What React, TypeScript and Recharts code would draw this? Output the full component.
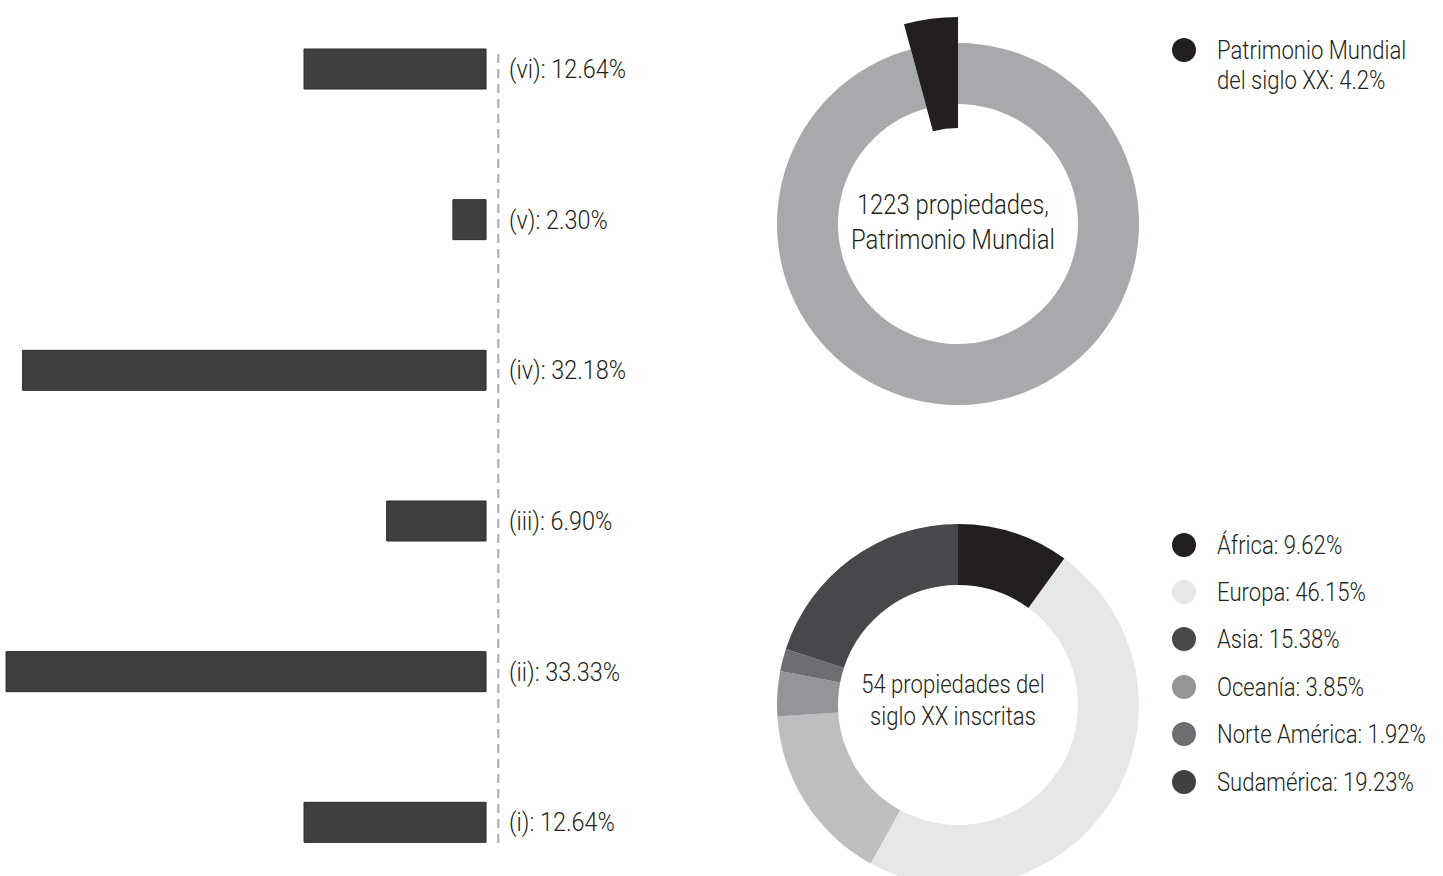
import React from 'react';
import { BarChart, Bar, XAxis, YAxis, ReferenceLine, LabelList, PieChart, Pie, Cell } from 'recharts';

// criterios de inscripción (barras, de arriba a abajo)
const criteria = ['(vi)', '(v)', '(iv)', '(iii)', '(ii)', '(i)'];
const criteriaShare = [12.64, 2.3, 32.18, 6.9, 33.33, 12.64];

// anillo superior
const worldNames = ['Patrimonio Mundial\ndel siglo XX', 'Resto'];
const worldShare = [4.2, 95.8];
const worldColors = ['#231f20', '#a7a9ac'];

// anillo inferior
const regions = ['África', 'Europa', 'Asia', 'Oceanía', 'Norte América', 'Sudamérica'];
const regionShare = [9.62, 46.15, 15.38, 3.85, 1.92, 19.23];
const regionColors = ['#231f20', '#e6e7e8', '#bcbec0', '#939598', '#6d6e71', '#47484b'];
const legendColors = ['#231f20', '#e6e7e8', '#47484b', '#939598', '#6d6e71', '#414042'];

// no condensed font installed: squeeze a regular sans horizontally
const FONT = "Roboto, 'Liberation Sans', sans-serif";
const WEIGHT = 300;
const SX = 0.85;
const SX_BARS = 0.9;
const INK = '#231f20';

const barData = criteria.map((c, i) => ({
  name: c,
  value: criteriaShare[i],
  label: `${c}: ${criteriaShare[i].toFixed(2)}%`,
}));
const worldData = worldNames.map((n, i) => ({ name: n, value: worldShare[i] }));
const regionData = regions.map((n, i) => ({ name: n, value: regionShare[i] }));

const BarLabel = (props: any) => {
  const vb = props.viewBox || props;
  const right = Math.max(vb.x, vb.x + vb.width);
  return (
    <text
      transform={`translate(${right + 23}, ${vb.y + vb.height / 2 + 9}) scale(${SX_BARS}, 1)`}
      fontSize={26}
      fontWeight={WEIGHT}
      fill={INK}
      fontFamily={FONT}
    >
      {props.value}
    </text>
  );
};

const squeeze = (origin: string): React.CSSProperties => ({
  display: 'inline-block',
  transform: `scaleX(${SX})`,
  transformOrigin: origin,
  whiteSpace: 'pre-line',
});

export default function App() {
  return (
    <div style={{ position: 'absolute', left: 0, top: 0, width: 1443, height: 876, overflow: 'hidden', background: '#fff', fontFamily: FONT, fontWeight: WEIGHT, color: INK }}>
      {/* barras */}
      <div style={{ position: 'absolute', left: 0, top: 0 }}>
        <BarChart width={660} height={876} data={barData} layout="vertical" margin={{ top: 49, right: 161, bottom: 33, left: 0 }}>
          <XAxis type="number" hide domain={[-0.9, 33.75]} reversed />
          <YAxis type="category" dataKey="name" hide padding={{ top: -55, bottom: -55 }} />
          <ReferenceLine x={-0.85} stroke="#a7a9ac" strokeWidth={2} strokeDasharray="9 6" />
          <Bar dataKey="value" fill="#3f3f3f" stroke="#2b2b2b" strokeWidth={1} barSize={40} isAnimationActive={false}>
            <LabelList dataKey="label" content={BarLabel} />
          </Bar>
        </BarChart>
      </div>

      {/* anillo superior */}
      <div style={{ position: 'absolute', left: 733, top: -1 }}>
        <PieChart width={440} height={440}>
          <Pie data={worldData} dataKey="value" cx={220} cy={220} innerRadius={120} outerRadius={181} startAngle={90} endAngle={450} stroke="none" isAnimationActive={false}>
            {worldData.map((d, i) => (
              <Cell key={d.name} fill={i === 0 ? 'none' : worldColors[i]} />
            ))}
          </Pie>
          <Pie data={worldData} dataKey="value" cx={220} cy={220} innerRadius={96} outerRadius={207} startAngle={90} endAngle={450} stroke="none" isAnimationActive={false}>
            {worldData.map((d, i) => (
              <Cell key={d.name} fill={i === 0 ? worldColors[0] : 'none'} />
            ))}
          </Pie>
        </PieChart>
      </div>
      <div style={{ position: 'absolute', left: 753, top: 187, width: 400, textAlign: 'center', fontSize: 28, lineHeight: '35px' }}>
        <span style={squeeze('center')}>{'1223 propiedades,\nPatrimonio Mundial'}</span>
      </div>

      {/* leyenda superior */}
      {worldData.slice(0, 1).map((d, i) => (
        <div key={d.name} style={{ position: 'absolute', left: 1172, top: 35, fontSize: 26, lineHeight: '30px' }}>
          <span style={{ position: 'absolute', left: 0, top: 3, width: 24, height: 24, borderRadius: 12, background: worldColors[i] }} />
          <span style={{ ...squeeze('left'), marginLeft: 45 }}>{`${d.name}: ${d.value}%`}</span>
        </div>
      ))}

      {/* anillo inferior */}
      <div style={{ position: 'absolute', left: 733, top: 480 }}>
        <PieChart width={440} height={440}>
          <Pie data={regionData} dataKey="value" cx={220} cy={220} innerRadius={120} outerRadius={181} startAngle={90} endAngle={-270} stroke="none" isAnimationActive={false}>
            {regionData.map((d, i) => (
              <Cell key={d.name} fill={regionColors[i]} />
            ))}
          </Pie>
        </PieChart>
      </div>
      <div style={{ position: 'absolute', left: 753, top: 668, width: 400, textAlign: 'center', fontSize: 26, lineHeight: '32px' }}>
        <span style={squeeze('center')}>{'54 propiedades del\nsiglo XX inscritas'}</span>
      </div>

      {/* leyenda inferior */}
      <div style={{ position: 'absolute', left: 1172, top: 521, width: 271 }}>
        {regionData.map((d, i) => (
          <div key={d.name} style={{ display: 'flex', alignItems: 'center', height: 47.4, fontSize: 26, lineHeight: '30px' }}>
            <span style={{ width: 24, height: 24, borderRadius: 12, background: legendColors[i], marginRight: 21, flex: 'none' }} />
            <span style={{ ...squeeze('left'), whiteSpace: 'nowrap' }}>{`${d.name}: ${d.value.toFixed(2)}%`}</span>
          </div>
        ))}
      </div>
    </div>
  );
}
